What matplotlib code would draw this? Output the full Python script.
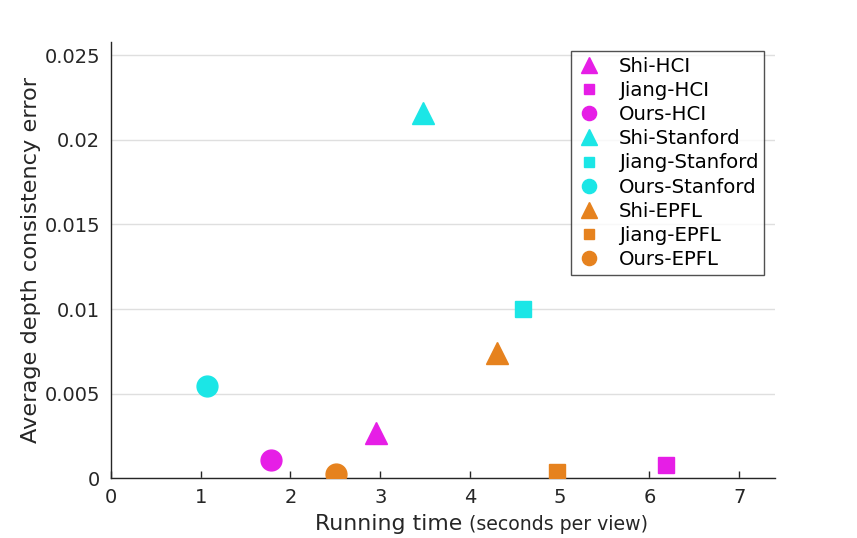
import matplotlib
matplotlib.use("Agg")
import matplotlib.pyplot as plt

plt.rcParams['font.family'] = ['DejaVu Sans']

labels = ["Shi-HCI", "Jiang-HCI", "Ours-HCI",
          "Shi-Stanford", "Jiang-Stanford", "Ours-Stanford",
          "Shi-EPFL", "Jiang-EPFL", "Ours-EPFL"]
run_time = [2.95, 6.18, 1.78, 3.48, 4.59, 1.07, 4.30, 4.97, 2.51]
depth_err = [0.0027, 0.00078, 0.00108, 0.0216, 0.0100, 0.00545, 0.0074, 0.0004, 0.00027]
markers = ['^', 's', 'o'] * 3
colors = ['#E61EE6'] * 3 + ['#1BE6E6'] * 3 + ['#E6821E'] * 3
msizes = {'^': 16, 's': 11.5, 'o': 15}

xticks = [0, 1, 2, 3, 4, 5, 6, 7]
yticks = [0, 0.005, 0.01, 0.015, 0.02, 0.025]
ytick_labels = ['0', '0.005', '0.01', '0.015', '0.02', '0.025']

W, H = 857, 538
fig = plt.figure(figsize=(W / 100, H / 100), dpi=100)
ax = fig.add_axes([111 / W, (H - 478.3) / H, (775 - 111) / W, (478.3 - 41.7) / H])

txt = '#262626'
for x, y, m, c, lab in zip(run_time, depth_err, markers, colors, labels):
    ax.plot([x], [y], linestyle='none', marker=m, color=c, markeredgecolor=c,
            markersize=msizes[m], label=lab, zorder=3)

ax.set_xlim(0, 7.4)
ax.set_ylim(0, 0.0258)
ax.set_xticks(xticks)
ax.set_xticklabels([str(t) for t in xticks])
ax.set_yticks(yticks)
ax.set_yticklabels(ytick_labels)
ax.yaxis.grid(True, color='#dfdfdf', linewidth=1.0, zorder=0)
ax.set_axisbelow(True)
for s in ['top', 'right']:
    ax.spines[s].set_visible(False)
for s in ['left', 'bottom']:
    ax.spines[s].set_color(txt)
    ax.spines[s].set_linewidth(1.0)
ax.tick_params(direction='in', length=5, width=1.0, colors=txt, labelsize=14, pad=7)
ax.tick_params(axis='y', length=0, pad=8)

ax.set_ylabel('Average depth consistency error', fontsize=16.2, color=txt, labelpad=2)

fig.text(462 / W, (H - 524) / H, 'Running time', fontsize=15.8, color=txt,
         ha='right', va='center')
fig.text(469 / W, (H - 525) / H, '(seconds per view)', fontsize=13.6, color=txt,
         ha='left', va='center')

leg = ax.legend(loc='upper right', bbox_to_anchor=((764 - 111) / 664, (478.3 - 51) / 436.6),
                borderaxespad=0, fontsize=14.2, markerscale=0.68, frameon=True,
                fancybox=False, edgecolor=txt, handlelength=1.2, handletextpad=0.9,
                labelspacing=0.26, borderpad=0.3, numpoints=1)
leg.get_frame().set_linewidth(1.0)
for t in leg.get_texts():
    t.set_color('black')

fig.savefig('out.png', dpi=100)
